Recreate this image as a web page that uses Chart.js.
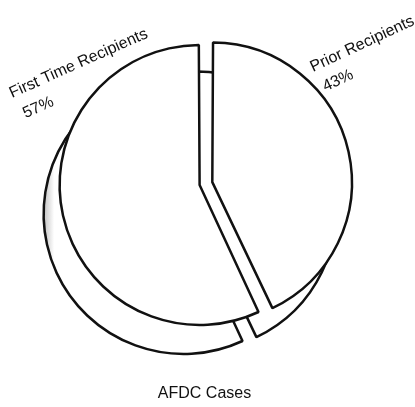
<!DOCTYPE html>
<html>
<head>
<meta charset="utf-8">
<script src="https://cdn.jsdelivr.net/npm/chart.js@4"></script>
<style>
  body { margin: 0; background: #fff; }
  #wrap { position: relative; width: 415px; height: 407px; overflow: hidden; }
  canvas { position: absolute; }
  #depthChart { left: -16px; top: 29px; }
  #pieChart { left: 0; top: 0; }
</style>
</head>
<body>
<div id="wrap">
  <canvas id="depthChart" width="415" height="407"></canvas>
  <canvas id="pieChart" width="415" height="407"></canvas>
</div>
<script>
// Chart data
const categories = ['Prior Recipients', 'First Time Recipients'];
const percentages = [43, 57];
const chartTitle = 'AFDC Cases';

const FONT = '"Liberation Sans Narrow", "Arial Narrow", Arial, sans-serif';

// where each slice label sits (layout only)
const labelPlacement = [
    { x: 313, y: 72, angle: -25, dx: 3, dy: 23 },
    { x: 12, y: 98, angle: -24, dx: 4, dy: 24 }
];

// Plugin that writes the rotated slice labels
const sliceLabels = {
    id: 'sliceLabels',
    afterDraw(chart) {
        const ctx = chart.ctx;
        const labels = chart.data.labels;
        const values = chart.data.datasets[0].data;
        ctx.save();
        ctx.fillStyle = '#111';
        ctx.font = '16px ' + FONT;
        ctx.textBaseline = 'alphabetic';
        labels.forEach((label, i) => {
            const p = labelPlacement[i];
            ctx.save();
            ctx.translate(p.x, p.y);
            ctx.rotate(p.angle * Math.PI / 180);
            ctx.fillText(label, 0, 0);
            ctx.fillText(values[i] + '%', p.dx, p.dy);
            ctx.restore();
        });
        ctx.restore();
    }
};

function baseOptions(showTitle) {
    return {
        responsive: false,
        animation: false,
        events: [],
        layout: { padding: { left: 61, right: 67, top: 39, bottom: 4 } },
        plugins: {
            legend: { display: false },
            tooltip: { enabled: false },
            title: {
                display: true,
                text: chartTitle,
                position: 'bottom',
                color: showTitle ? '#111' : 'rgba(0,0,0,0)',
                font: { family: FONT, size: 16, weight: 'normal' },
                padding: { top: 55, bottom: 0 }
            }
        }
    };
}

// slices pulled apart a little
const sliceOffsets = [32, 20];

// Back layer: the same pie pushed down-left to give the slab its thickness
new Chart(document.getElementById('depthChart'), {
    type: 'pie',
    data: {
        labels: categories,
        datasets: [{
            data: percentages,
            backgroundColor: (context) => {
                const area = context.chart.chartArea;
                if (!area) return '#fff';
                const g = context.chart.ctx.createLinearGradient(area.left - 6, 0, area.left + 14, 0);
                g.addColorStop(0, '#8a8a8a');
                g.addColorStop(1, '#ffffff');
                return g;
            },
            borderColor: '#111',
            borderWidth: 2.5,
            offset: sliceOffsets,
            radius: 135
        }]
    },
    options: baseOptions(false)
});

// Front layer: the pie face, labels and title
new Chart(document.getElementById('pieChart'), {
    type: 'pie',
    data: {
        labels: categories,
        datasets: [{
            data: percentages,
            backgroundColor: '#fff',
            borderColor: '#111',
            borderWidth: 2.5,
            offset: sliceOffsets,
            radius: 135
        }]
    },
    options: baseOptions(true),
    plugins: [sliceLabels]
});
</script>
</body>
</html>
